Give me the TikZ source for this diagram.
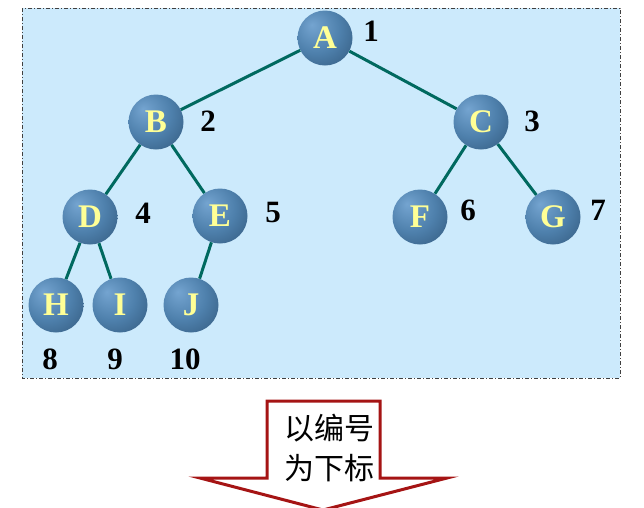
\documentclass[tikz,border=0pt]{standalone}
\usepackage{fontspec}
\setmainfont{Liberation Serif}
\newfontfamily\cjk{Noto Sans CJK SC}

\definecolor{panelblue}{RGB}{204,234,252}
\definecolor{edgeteal}{RGB}{0,105,95}
\definecolor{ballhi}{RGB}{116,164,208}
\definecolor{ballmid}{RGB}{78,128,172}
\definecolor{balldark}{RGB}{38,72,104}
\definecolor{letteryellow}{RGB}{255,255,150}
\definecolor{arrowred}{RGB}{165,20,20}
\pgfdeclareradialshading{heapball}{\pgfpoint{-12bp}{12bp}}{color(0bp)=(ballhi); color(22bp)=(ballmid); color(52bp)=(balldark); color(70bp)=(balldark)}

\tikzset{
  heapnode/.style={circle, minimum size=55pt, inner sep=0pt, shading=heapball,
    text=letteryellow, font=\bfseries\fontsize{33}{33}\selectfont},
  heapedge/.style={edgeteal, line width=3pt},
  idxlabel/.style={font=\bfseries\fontsize{31}{31}\selectfont},
  panel/.style={fill=panelblue, draw=black!75, line width=1pt,
    dash pattern=on 4pt off 2pt on 1pt off 2pt},
  downarrow/.style={fill=white, draw=arrowred, line width=3pt, line join=miter}
}

\begin{document}
\begin{tikzpicture}[x=1pt, y=-1pt]
            \useasboundingbox (0,0) rectangle (644,507);
            \draw[panel] (22,8) rectangle (620,378);

            \node[heapnode] at (325,38) (a) {A};

            \node[heapnode] at (156,122) (b) {B};
            \node[heapnode] at (481,122) (c) {C};

            \node[heapnode] at (90,217) (d) {D};
            \node[heapnode] at (220,216) (e) {E};
            \node[heapnode] at (420,217) (f) {F};
            \node[heapnode] at (553,217) (g) {G};

            \node[heapnode] at (56,305) (h) {H};
            \node[heapnode] at (120,305) (i) {I};
            \node[heapnode] at (191,305) (j) {J};

            \draw[heapedge] (a) -- (b);
            \draw[heapedge] (a) -- (c);
            \draw[heapedge] (b) -- (d);
            \draw[heapedge] (b) -- (e);
            \draw[heapedge] (c) -- (f);
            \draw[heapedge] (c) -- (g);
            \draw[heapedge] (d) -- (h);
            \draw[heapedge] (d) -- (i);
            \draw[heapedge] (e) -- (j);

            \node[idxlabel] at (371,31) (n1) {1};
            \node[idxlabel] at (208,121) (n2) {2};
            \node[idxlabel] at (532,121) (n3) {3};
            \node[idxlabel] at (143,213) (n4) {4};
            \node[idxlabel] at (273,212) (n5) {5};
            \node[idxlabel] at (468,210) (n6) {6};
            \node[idxlabel] at (598,210) (n7) {7};
            \node[idxlabel] at (50,359) (n8) {8};
            \node[idxlabel] at (115,359) (n9) {9};
            \node[idxlabel] at (185,359) (n10) {10};

            \draw[downarrow] (267,401) -- (380,401) -- (380,478) -- (447,478)
              -- (323,510) -- (200,478) -- (267,478) -- cycle;
            \node[align=center, font=\cjk\fontsize{30}{40}\selectfont] at (329,448) (tag) {以编号\\为下标};
        \end{tikzpicture}
\end{document}
